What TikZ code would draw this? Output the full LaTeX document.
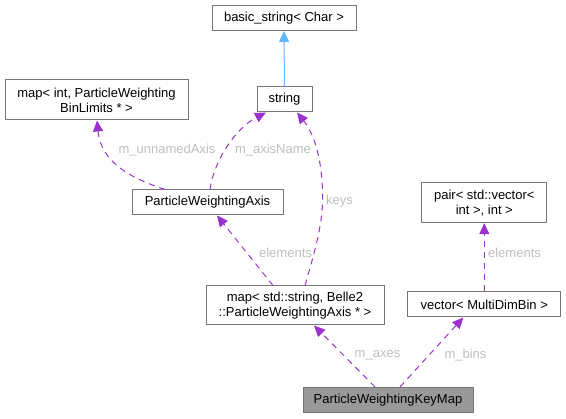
\documentclass[tikz,border=0pt]{standalone}
\usepackage{fontspec}
\setmainfont{Liberation Sans}
\usetikzlibrary{arrows.meta}
\definecolor{edgepurple}{HTML}{9A32CD}
\definecolor{edgeblue}{HTML}{63B8FF}
\definecolor{boxborder}{HTML}{777777}
\definecolor{boxfill}{HTML}{999999}
\definecolor{lblgray}{HTML}{BEBEBE}
\tikzset{
  cls/.style={draw=boxborder, line width=1pt, fill=white, inner sep=0pt, align=center,
    font=\fontsize{13}{15}\selectfont, text=black},
  clshl/.style={cls, fill=boxfill},
  usage/.style={draw=edgepurple, line width=1pt, dash pattern=on 6pt off 5pt,
    -{Triangle[length=11pt,width=10pt,fill=edgepurple]}},
  inherit/.style={draw=edgeblue, line width=1pt,
    -{Triangle[length=11pt,width=10pt,fill=edgeblue]}},
  lbl/.style={font=\fontsize{13}{15}\selectfont, text=lblgray, inner sep=0pt}
}
\begin{document}
\begin{tikzpicture}[x=1pt,y=-1pt]
\useasboundingbox (0,0) rectangle (566,419);
% nodes
\node[cls, minimum width=144pt, minimum height=25pt] (bs) at (284,18) {basic\_string< Char >};
\node[cls, minimum width=55pt, minimum height=25pt] (str) at (284.5,99.5) {string};
\node[cls, minimum width=183pt, minimum height=40pt] (mapint) at (96.5,100) {map< int, ParticleWeighting\\BinLimits * >};
\node[cls, minimum width=151pt, minimum height=25pt] (pwa) at (207.5,202.5) {ParticleWeightingAxis};
\node[cls, minimum width=178pt, minimum height=39pt] (mapstd) at (295,305.5) {map< std::string, Belle2\\::ParticleWeightingAxis * >};
\node[cls, minimum width=124.7pt, minimum height=40pt] (pair) at (484.3,202.7) {pair< std::vector<\\int >, int >};
\node[cls, minimum width=152.7pt, minimum height=25pt] (vec) at (484.3,304.5) {vector< MultiDimBin >};
\node[clshl, minimum width=170pt, minimum height=25pt] (km) at (388,400) {ParticleWeightingKeyMap};
% edges
\draw[inherit] (str.north) -- (bs.south);
\draw[usage] ([xshift=-42.5pt]pwa.north) .. controls (130,178) and (101,162) .. ([xshift=0.5pt]mapint.south);
\draw[usage] ([xshift=2.5pt]pwa.north) .. controls (214,160) and (236,128) .. ([xshift=-18.5pt]str.south);
\draw[usage] ([xshift=10pt]mapstd.north) .. controls (315,250) and (324,222) .. (322.5,190) .. controls (321,150) and (311,130) .. ([xshift=12.5pt]str.south);
\draw[usage] ([xshift=-22pt]mapstd.north) -- ([xshift=9.5pt]pwa.south);
\draw[usage] (vec.north) -- (pair.south);
\draw[usage] ([xshift=-13pt]km.north) -- ([xshift=19pt]mapstd.south);
\draw[usage] ([xshift=12pt]km.north) -- ([xshift=-21pt]vec.south);
% labels
\node[lbl] (l1) at (167,150) {m\_unnamedAxis};
\node[lbl] (l2) at (273,150) {m\_axisName};
\node[lbl] (l3) at (339.5,201.5) {keys};
\node[lbl] (l4) at (285.5,252.5) {elements};
\node[lbl] (l5) at (514.5,252.5) {elements};
\node[lbl] (l6) at (377.5,355.5) {m\_axes};
\node[lbl] (l7) at (465.5,355.5) {m\_bins};
\end{tikzpicture}
\end{document}
